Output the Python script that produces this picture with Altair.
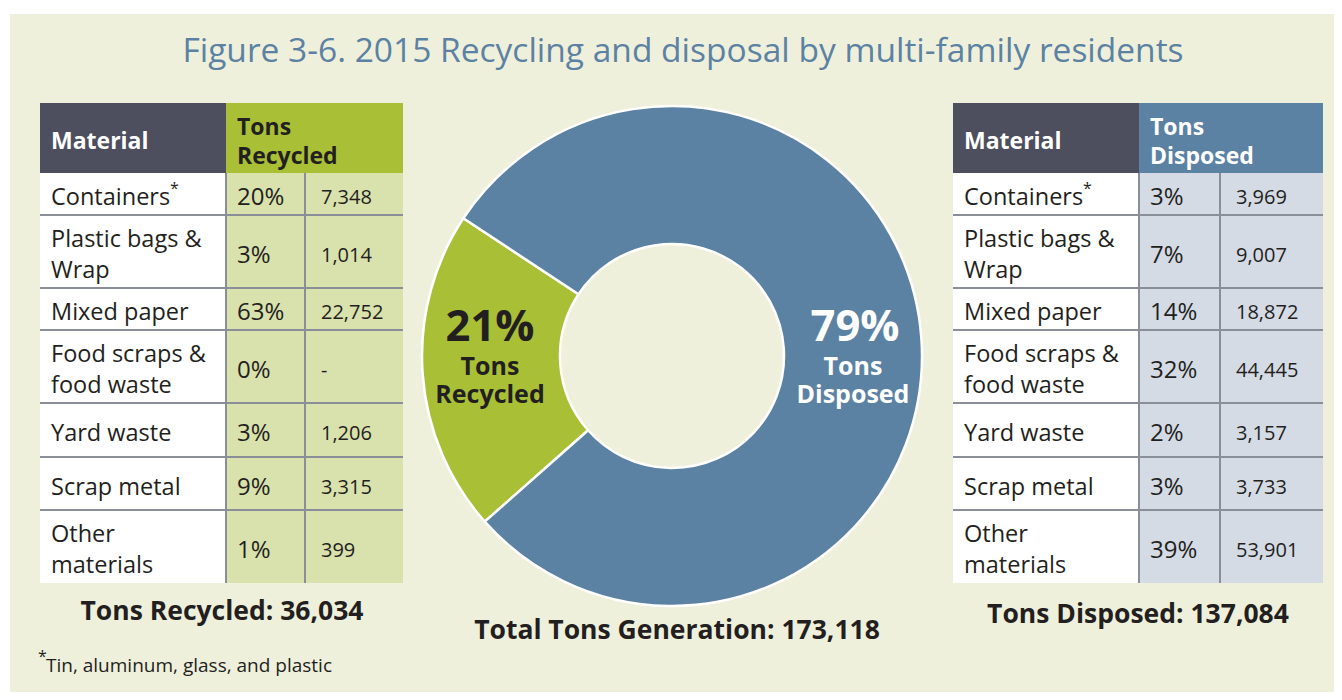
import math
import altair as alt
import pandas as pd

# ---------------- data ----------------
title_text = "Figure 3-6. 2015 Recycling and disposal by multi-family residents"
materials = ["Containers", "Plastic bags &\nWrap", "Mixed paper", "Food scraps &\nfood waste",
             "Yard waste", "Scrap metal", "Other\nmaterials"]
recycled_pct = [20, 3, 63, 0, 3, 9, 1]
recycled_tons = [7348, 1014, 22752, None, 1206, 3315, 399]
disposed_pct = [3, 7, 14, 32, 2, 3, 39]
disposed_tons = [3969, 9007, 18872, 44445, 3157, 3733, 53901]
total_recycled = 36034
total_disposed = 137084
total_generation = 173118
share_names = ["Tons\nRecycled", "Tons\nDisposed"]
share_values = [total_recycled, total_disposed]
footnote = "Tin, aluminum, glass, and plastic"

# ---------------- style / layout ----------------
FONT = "Open Sans"
CREAM = "#eff0dc"
BLUE = "#5c82a3"
GREEN = "#a9bf35"
DARK = "#4d4e5e"
LGREEN = "#d9e1ad"
LBLUE = "#d4dbe5"
GRID = "#8a8e98"
INK = "#231f20"

X0, Y0 = 8, 8
W, H = 1326, 684
header_top = 103
row_edges = [173, 215, 288, 330, 403, 457, 510, 583]
LH_CELL = 31
LH_HEAD = 29
LH_SHARE = 28
TXT_DY = 4  # optical correction for Open Sans "middle" baseline


def block_y(yc, text, lh):
    """Vega puts the first line at y; shift so the whole block is centred on yc."""
    n = text.count("\n") + 1
    return yc - (n - 1) * lh / 2


tables = [
    dict(left=40, c1=226, c2=305, right=403, head=GREEN, cell=LGREEN, head_color=INK,
         head_text="Tons\nRecycled", pct=recycled_pct, tons=recycled_tons, star_x=170),
    dict(left=953, c1=1139, c2=1220, right=1323, head=BLUE, cell=LBLUE, head_color="white",
         head_text="Tons\nDisposed", pct=disposed_pct, tons=disposed_tons, star_x=1083),
]

rects, rules = [], []
t_mat, t_pct, t_val, t_head, t_star = [], [], [], [], []

rects.append(dict(x=10, x2=X0 + W, y=14, y2=Y0 + H, fill=CREAM))
for t in tables:
    rects.append(dict(x=t["left"], x2=t["c1"], y=header_top, y2=row_edges[0], fill=DARK))
    rects.append(dict(x=t["c1"], x2=t["right"], y=header_top, y2=row_edges[0], fill=t["head"]))
    rects.append(dict(x=t["left"], x2=t["c1"], y=row_edges[0], y2=row_edges[-1], fill="white"))
    rects.append(dict(x=t["c1"], x2=t["right"], y=row_edges[0], y2=row_edges[-1], fill=t["cell"]))
    hc = (header_top + row_edges[0]) / 2 + TXT_DY
    t_head.append(dict(x=t["left"] + 11, y=hc, text="Material", color="white"))
    t_head.append(dict(x=t["c1"] + 11, y=block_y(hc, t["head_text"], LH_HEAD), text=t["head_text"],
                       color=t["head_color"]))
    for i, m in enumerate(materials):
        yc = (row_edges[i] + row_edges[i + 1]) / 2 + TXT_DY
        t_mat.append(dict(x=t["left"] + 11, y=block_y(yc, m, LH_CELL), text=m))
        t_pct.append(dict(x=t["c1"] + 11, y=yc, text=f"{t['pct'][i]}%"))
        v = t["tons"][i]
        t_val.append(dict(x=t["c2"] + 16, y=yc, text="-" if v is None else f"{v:,}"))
        if i < len(materials) - 1:
            rules.append(dict(x=t["left"], x2=t["right"], y=row_edges[i + 1], y2=row_edges[i + 1]))
    t_star.append(dict(x=t["star_x"], y=189, text="*"))
    for cx in (t["c1"], t["c2"]):
        rules.append(dict(x=cx, x2=cx, y=row_edges[0], y2=row_edges[-1]))

t_star.append(dict(x=38, y=657, text="*"))

xs = alt.Scale(domain=[X0, X0 + W], range=[0, W], nice=False, zero=False)
ys = alt.Scale(domain=[Y0, Y0 + H], range=[0, H], nice=False, zero=False)

rect_layer = alt.Chart(pd.DataFrame(rects)).mark_rect().encode(
    x=alt.X("x:Q", scale=xs, axis=None), x2="x2:Q",
    y=alt.Y("y:Q", scale=ys, axis=None), y2="y2:Q",
    color=alt.Color("fill:N", scale=None),
)
rule_layer = alt.Chart(pd.DataFrame(rules)).mark_rule(color=GRID, strokeWidth=2).encode(
    x=alt.X("x:Q", scale=xs, axis=None), x2="x2:Q",
    y=alt.Y("y:Q", scale=ys, axis=None), y2="y2:Q",
)


def text_layer(rows, size, weight="normal", color=INK, align="left", lh=None, colorfield=False):
    kw = dict(font=FONT, fontSize=size, fontWeight=weight, align=align, baseline="middle", lineBreak="\n")
    if lh:
        kw["lineHeight"] = lh
    if not colorfield:
        kw["color"] = color
    enc = dict(x=alt.X("x:Q", scale=xs, axis=None), y=alt.Y("y:Q", scale=ys, axis=None), text="text:N")
    if colorfield:
        enc["color"] = alt.Color("color:N", scale=None)
    return alt.Chart(pd.DataFrame(rows)).mark_text(**kw).encode(**enc)


# donut
start = math.radians(228.5)
donut_df = pd.DataFrame(dict(name=share_names, value=share_values, fill=[GREEN, BLUE], idx=[0, 1]))
donut = alt.Chart(donut_df).mark_arc(innerRadius=112, outerRadius=250, stroke="white", strokeWidth=2.5).encode(
    theta=alt.Theta("value:Q", stack=True, scale=alt.Scale(range=[start, start + 2 * math.pi])),
    color=alt.Color("fill:N", scale=None),
    order=alt.Order("idx:Q"),
    x=alt.value(672 - X0), y=alt.value(356 - Y0),
)

pcts = [round(v / total_generation * 100) for v in share_values]
big_pct = [dict(x=490, y=328, text=f"{pcts[0]}%", color=INK), dict(x=855, y=328, text=f"{pcts[1]}%", color="white")]
share_lbl = [dict(x=490, y=block_y(381, share_names[0], LH_SHARE), text=share_names[0], color=INK),
             dict(x=853, y=block_y(381, share_names[1], LH_SHARE), text=share_names[1], color="white")]

totals = [
    dict(x=222, y=612, text=f"Tons Recycled: {total_recycled:,}"),
    dict(x=677, y=631, text=f"Total Tons Generation: {total_generation:,}"),
    dict(x=1138, y=615, text=f"Tons Disposed: {total_disposed:,}"),
]

layers = [
    rect_layer,
    rule_layer,
    donut,
    text_layer([dict(x=683, y=52, text=title_text)], 33.5, color=BLUE, align="center"),
    text_layer(t_head, 23, weight="bold", lh=LH_HEAD, colorfield=True),
    text_layer(t_mat, 23.5, lh=LH_CELL),
    text_layer(t_pct, 24),
    text_layer(t_val, 20),
    text_layer(t_star, 16),
    text_layer([dict(x=46, y=666, text=footnote)], 19),
    text_layer(big_pct, 43.5, weight="bold", align="center", colorfield=True),
    text_layer(share_lbl, 25, weight="bold", align="center", lh=LH_SHARE, colorfield=True),
    text_layer(totals, 26.5, weight="bold", align="center"),
]

chart = alt.layer(*layers).properties(
    width=W, height=H, background="white", padding=0,
    autosize=alt.AutoSizeParams(type="none"),
).configure_view(stroke=None)

chart.save("out.html", embed_options={"renderer": "svg", "actions": False})
